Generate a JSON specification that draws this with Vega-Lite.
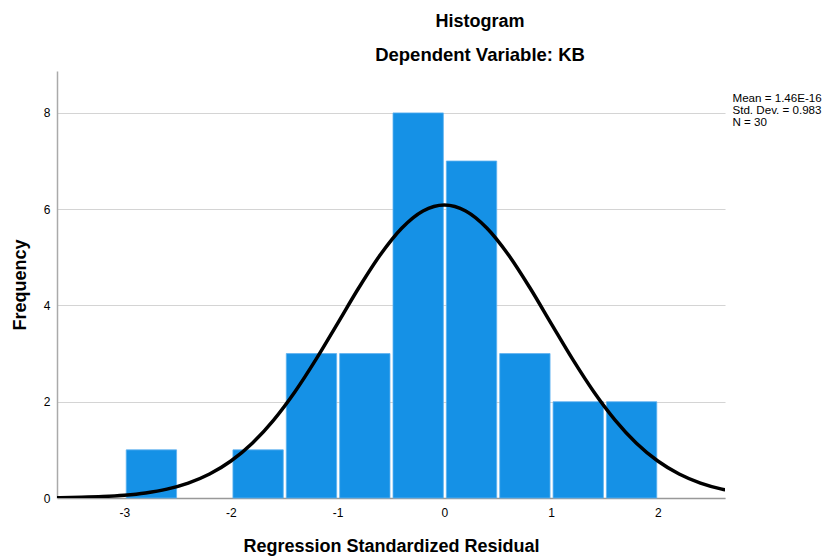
{
  "$schema": "https://vega.github.io/schema/vega-lite/v6.json",
  "width": 668,
  "height": 427,
  "autosize": {"type": "none"},
  "padding": {"left": 57, "top": 71, "right": 105, "bottom": 60},
  "background": "#ffffff",
  "config": {
    "view": {"stroke": null},
    "font": "Liberation Sans",
    "axis": {"labelFont": "Liberation Sans", "titleFont": "Liberation Sans"}
  },
  "title": {
    "text": "Histogram",
    "subtitle": "Dependent Variable: KB",
    "anchor": "middle",
    "frame": "group",
    "dx": 89,
    "offset": 7,
    "font": "Liberation Sans",
    "fontSize": 18,
    "fontWeight": "bold",
    "color": "#000000",
    "subtitleFont": "Liberation Sans",
    "subtitleFontSize": 18.5,
    "subtitleFontWeight": "bold",
    "subtitleColor": "#000000",
    "subtitlePadding": 15
  },
  "datasets": {
    "bins": [
      {"lo": -3.0, "hi": -2.5, "count": 1},
      {"lo": -2.0, "hi": -1.5, "count": 1},
      {"lo": -1.5, "hi": -1.0, "count": 3},
      {"lo": -1.0, "hi": -0.5, "count": 3},
      {"lo": -0.5, "hi": 0.0, "count": 8},
      {"lo": 0.0, "hi": 0.5, "count": 7},
      {"lo": 0.5, "hi": 1.0, "count": 3},
      {"lo": 1.0, "hi": 1.5, "count": 2},
      {"lo": 1.5, "hi": 2.0, "count": 2}
    ],
    "curve": [
      {"x": -3.7, "y": 0.0051},
      {"x": -3.6, "y": 0.00745},
      {"x": -3.4, "y": 0.0154},
      {"x": -3.2, "y": 0.0304},
      {"x": -3.0, "y": 0.0578},
      {"x": -2.8, "y": 0.105},
      {"x": -2.6, "y": 0.184},
      {"x": -2.4, "y": 0.309},
      {"x": -2.2, "y": 0.4975},
      {"x": -2.0, "y": 0.768},
      {"x": -1.8, "y": 1.138},
      {"x": -1.6, "y": 1.619},
      {"x": -1.4, "y": 2.208},
      {"x": -1.2, "y": 2.890},
      {"x": -1.0, "y": 3.629},
      {"x": -0.8, "y": 4.372},
      {"x": -0.6, "y": 5.053},
      {"x": -0.4, "y": 5.604},
      {"x": -0.2, "y": 5.963},
      {"x": 0.0, "y": 6.088},
      {"x": 0.2, "y": 5.963},
      {"x": 0.4, "y": 5.604},
      {"x": 0.6, "y": 5.053},
      {"x": 0.8, "y": 4.372},
      {"x": 1.0, "y": 3.629},
      {"x": 1.2, "y": 2.890},
      {"x": 1.4, "y": 2.208},
      {"x": 1.6, "y": 1.619},
      {"x": 1.8, "y": 1.138},
      {"x": 2.0, "y": 0.768},
      {"x": 2.2, "y": 0.4975},
      {"x": 2.4, "y": 0.309},
      {"x": 2.6, "y": 0.184},
      {"x": 2.8, "y": 0.105}
    ],
    "stats": [
      {"stat": ["Mean = 1.46E-16", "Std. Dev. = 0.983", "N = 30"]}
    ]
  },
  "layer": [
    {
      "data": {"name": "bins"},
      "mark": {"type": "bar", "color": "#1591e6", "binSpacing": 3, "stroke": "#5fb3f0", "strokeWidth": 0.8},
      "encoding": {
        "x": {
          "field": "lo",
          "type": "quantitative",
          "bin": {"binned": true, "step": 0.5},
          "scale": {"domain": [-3.63, 2.63], "nice": false, "zero": false},
          "axis": {
            "title": "Regression Standardized Residual",
            "titleFontSize": 18,
            "titleFontWeight": "bold",
            "titleColor": "#000000",
            "titlePadding": 19,
            "values": [-3, -2, -1, 0, 1, 2],
            "labelExpr": "toString(datum.value)",
            "labelFontSize": 12,
            "labelColor": "#000000",
            "labelPadding": 9,
            "ticks": false,
            "grid": false,
            "domainColor": "#999999",
            "domainWidth": 1.5
          }
        },
        "x2": {"field": "hi"},
        "y": {
          "field": "count",
          "type": "quantitative",
          "scale": {"domain": [0, 8.87], "nice": false},
          "axis": {
            "title": "Frequency",
            "titleFontSize": 18,
            "titleFontWeight": "bold",
            "titleColor": "#000000",
            "titlePadding": 14,
            "values": [0, 2, 4, 6, 8],
            "labelExpr": "toString(datum.value)",
            "labelFontSize": 12,
            "labelColor": "#000000",
            "labelPadding": 7,
            "ticks": false,
            "grid": true,
            "gridColor": "#d4d4d4",
            "gridWidth": 1.2,
            "domainColor": "#aaaaaa",
            "domainWidth": 1.5
          }
        }
      }
    },
    {
      "data": {"name": "curve"},
      "mark": {"type": "line", "color": "#000000", "strokeWidth": 3.5, "interpolate": "monotone", "clip": true},
      "encoding": {
        "x": {"field": "x", "type": "quantitative"},
        "y": {"field": "y", "type": "quantitative"}
      }
    },
    {
      "data": {"name": "stats"},
      "mark": {"type": "text", "align": "left", "baseline": "top", "fontSize": 11.6, "lineHeight": 12.2, "color": "#000000", "font": "Liberation Sans"},
      "encoding": {
        "x": {"datum": 2.7},
        "y": {"datum": 8.42},
        "text": {"field": "stat"}
      }
    }
  ]
}
